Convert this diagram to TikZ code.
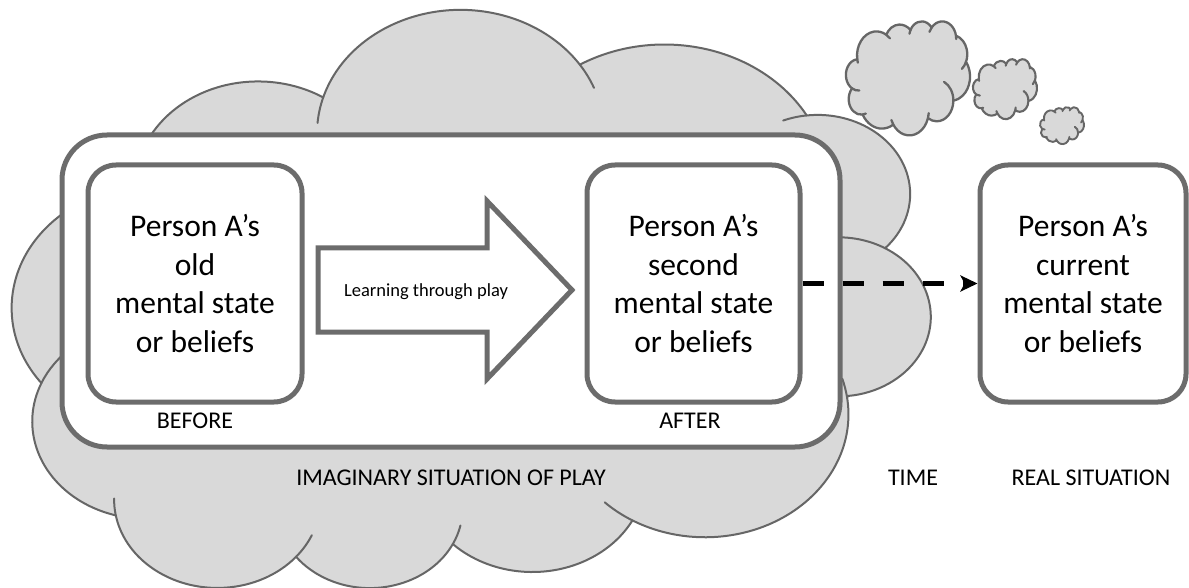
\documentclass[tikz,border=0pt]{standalone}
\usepackage{fontspec}
\setmainfont{Carlito}
\usetikzlibrary{arrows.meta}
\definecolor{cloudfill}{HTML}{D9D9D9}
\definecolor{cloudline}{HTML}{666666}
\definecolor{boxline}{HTML}{6C6C6C}
% PowerPoint-style cloud outline in a 432 x 432 box
\newcommand\cloudpathops{(39.00,143.70)
 arc[start angle=-187.75, end angle=-59.64, x radius=67.53, y radius=91.90]
 arc[start angle=-152.02, end angle=-45.44, x radius=53.33, y radius=72.67]
 arc[start angle=-153.48, end angle=-37.33, x radius=43.65, y radius=59.45]
 arc[start angle=-139.70, end angle=-10.21, x radius=48.57, y radius=65.95]
 arc[start angle=-74.77, end angle=23.21, x radius=53.33, y radius=72.73]
 arc[start angle=-37.53, end angle=81.86, x radius=67.75, y radius=92.20]
 arc[start angle=0.46, end angle=121.98, x radius=57.85, y radius=78.67]
 arc[start angle=16.85, end angle=146.25, x radius=67.52, y radius=92.15]
 arc[start angle=58.98, end angle=150.20, x radius=77.20, y radius=105.43]
 arc[start angle=83.31, end angle=223.13, x radius=43.60, y radius=59.18]
 arc[start angle=120.36, end angle=264.11, x radius=43.45, y radius=59.45] -- cycle}
\newcommand\cloudtailops{
 (21.12,255.45) arc[start angle=120.36, end angle=85.55, x radius=43.45, y radius=59.45]
 (58.02,354.69) arc[start angle=83.31, end angle=68.23, x radius=43.60, y radius=59.18]
 (164.78,392.65) arc[start angle=146.25, end angle=158.47, x radius=67.52, y radius=92.15]
 (285.55,368.16) arc[start angle=16.85, end angle=4.74, x radius=67.52, y radius=92.15]
 (374.04,302.06) arc[start angle=0.46, end angle=-64.03, x radius=57.85, y radius=78.67]
 (418.18,154.62) arc[start angle=23.21, end angle=49.66, x radius=53.33, y radius=72.73]
 (383.17,55.78) arc[start angle=-10.21, end angle=0.82, x radius=48.57, y radius=65.95]
 (298.32,24.83) arc[start angle=-139.70, end angle=-156.29, x radius=48.57, y radius=65.95]
 (224.56,34.32) arc[start angle=-153.48, end angle=-167.73, x radius=43.65, y radius=59.45]
 (140.05,52.02) arc[start angle=-59.64, end angle=-45.73, x radius=67.53, y radius=91.90]
 (39.00,143.70) arc[start angle=172.25, end angle=163.19, x radius=67.53, y radius=91.90]}
% cloud turned half round, in the box x0,y0,w,h (picture units)
\newcommand\drawcloudturned[5]{%
 \begin{scope}[shift={(#1+#3,#2+#4)},xscale=-#3/432,yscale=-#4/432]
  \path[cloudshape,line width=#5] \cloudpathops;
  \path[cloudtail,line width=#5] \cloudtailops;
 \end{scope}}
% cloud upright, in the box x0,y0,w,h
\newcommand\drawcloudupright[5]{%
 \begin{scope}[shift={(#1,#2)},xscale=#3/432,yscale=#4/432]
  \path[cloudshape,line width=#5] \cloudpathops;
  \path[cloudtail,line width=#5] \cloudtailops;
 \end{scope}}
\begin{document}
\begin{tikzpicture}[x=1pt,y=-1pt,
  cloudshape/.style={fill=cloudfill,draw=cloudline,line join=round},
  cloudtail/.style={draw=cloudline,line cap=round},
  frame/.style={draw=boxline,line width=5pt,fill=white,rounded corners=45pt,
    minimum width=778pt,minimum height=312pt,inner sep=0pt},
  statebox/.style={draw=boxline,line width=5pt,fill=white,rounded corners=28pt,
    minimum height=237pt,align=center,inner sep=0pt,
    font=\fontsize{31.5}{38.5}\selectfont},
  lbl/.style={font=\fontsize{24}{28}\selectfont,anchor=base,inner sep=0pt},
  blockarrow/.style={draw=boxline,line width=5pt,fill=white,line join=miter},
  timearrow/.style={line width=5.5pt,dash pattern=on 21pt off 19pt,
    -{Stealth[length=17pt,width=16pt,inset=4pt]}}]
\useasboundingbox (0,0) rectangle (1189,588);
\fill[white] (0,0) rectangle (1189,588);
% the big cloud and the three small ones
\drawcloudturned{12}{12}{918}{578}{2pt}
\drawcloudupright{846}{21}{124}{114}{2.3pt}
\drawcloudupright{973}{59}{64}{60}{2.1pt}
\drawcloudupright{1040}{107}{44}{37}{1.9pt}
% frame of the imaginary situation
\node[frame] (frame) at (451,291) {};
% mental state boxes
\node[statebox,minimum width=214pt] (old) at (195,283.5) {Person A’s\\old\\mental state\\or beliefs};
\node[statebox,minimum width=213pt] (second) at (693.5,283.5) {Person A’s\\second\\mental state\\or beliefs};
\node[statebox,minimum width=206pt] (current) at (1083,283.5) {Person A’s\\current\\mental state\\or beliefs};
% block arrow
\draw[blockarrow] (318,248) -- (487,248) -- (487,201) -- (572,290) -- (487,379) -- (487,332) -- (318,332) -- cycle;
\node[font=\fontsize{18.5}{22}\selectfont,anchor=base,inner sep=0pt] (learn) at (426,296) {Learning through play};
% time connector
\draw[timearrow] (second.east) -- (current.west);
% labels
\node[lbl] (before) at (195,428) {BEFORE};
\node[lbl] (after) at (690,428) {AFTER};
\node[lbl] (imag) at (451,485) {IMAGINARY SITUATION OF PLAY};
\node[lbl] (time) at (913,485) {TIME};
\node[lbl] (real) at (1091,485) {REAL SITUATION};
\end{tikzpicture}
\end{document}
